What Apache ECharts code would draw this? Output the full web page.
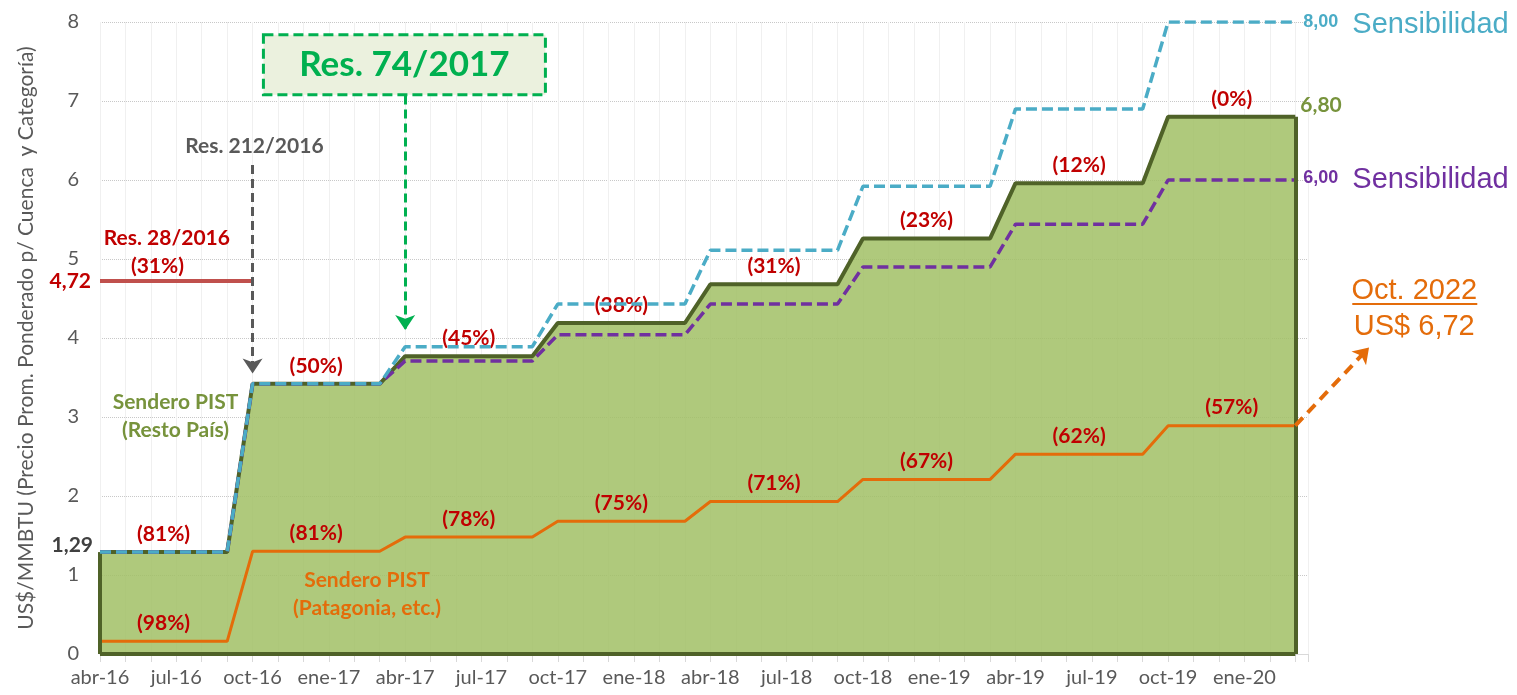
<!DOCTYPE html>
<html>

<head>
    <title>Sendero PIST</title>
    <meta charset="utf-8">
    <script src="https://cdn.jsdelivr.net/npm/echarts@6/dist/echarts.min.js"></script>
    <style>
        body { margin: 0; background: #fff; }
    </style>
</head>

<body>
    <div id="main" style="width: 1517px;height:695px;"></div>

    <script type="text/javascript">
        // months, abr-16 .. mar-20
        var months = ['abr-16', 'may-16', 'jun-16', 'jul-16', 'ago-16', 'sep-16', 'oct-16', 'nov-16', 'dic-16', 'ene-17', 'feb-17', 'mar-17',
            'abr-17', 'may-17', 'jun-17', 'jul-17', 'ago-17', 'sep-17', 'oct-17', 'nov-17', 'dic-17', 'ene-18', 'feb-18', 'mar-18',
            'abr-18', 'may-18', 'jun-18', 'jul-18', 'ago-18', 'sep-18', 'oct-18', 'nov-18', 'dic-18', 'ene-19', 'feb-19', 'mar-19',
            'abr-19', 'may-19', 'jun-19', 'jul-19', 'ago-19', 'sep-19', 'oct-19', 'nov-19', 'dic-19', 'ene-20', 'feb-20', 'mar-20'];

        // Sendero PIST (Resto Pais)
        var restoPais = [1.29, 1.29, 1.29, 1.29, 1.29, 1.29, 3.42, 3.42, 3.42, 3.42, 3.42, 3.42,
            3.77, 3.77, 3.77, 3.77, 3.77, 3.77, 4.19, 4.19, 4.19, 4.19, 4.19, 4.19,
            4.68, 4.68, 4.68, 4.68, 4.68, 4.68, 5.26, 5.26, 5.26, 5.26, 5.26, 5.26,
            5.96, 5.96, 5.96, 5.96, 5.96, 5.96, 6.80, 6.80, 6.80, 6.80, 6.80, 6.80];

        // Sendero PIST (Patagonia, etc.)
        var patagonia = [0.16, 0.16, 0.16, 0.16, 0.16, 0.16, 1.30, 1.30, 1.30, 1.30, 1.30, 1.30,
            1.48, 1.48, 1.48, 1.48, 1.48, 1.48, 1.68, 1.68, 1.68, 1.68, 1.68, 1.68,
            1.93, 1.93, 1.93, 1.93, 1.93, 1.93, 2.21, 2.21, 2.21, 2.21, 2.21, 2.21,
            2.53, 2.53, 2.53, 2.53, 2.53, 2.53, 2.89, 2.89, 2.89, 2.89, 2.89, 2.89];

        // sensibilidad 8,00
        var sensib8 = [1.29, 1.29, 1.29, 1.29, 1.29, 1.29, 3.42, 3.42, 3.42, 3.42, 3.42, 3.42,
            3.89, 3.89, 3.89, 3.89, 3.89, 3.89, 4.43, 4.43, 4.43, 4.43, 4.43, 4.43,
            5.11, 5.11, 5.11, 5.11, 5.11, 5.11, 5.92, 5.92, 5.92, 5.92, 5.92, 5.92,
            6.90, 6.90, 6.90, 6.90, 6.90, 6.90, 8.00, 8.00, 8.00, 8.00, 8.00, 8.00];

        // sensibilidad 6,00
        var sensib6 = [1.29, 1.29, 1.29, 1.29, 1.29, 1.29, 3.42, 3.42, 3.42, 3.42, 3.42, 3.42,
            3.71, 3.71, 3.71, 3.71, 3.71, 3.71, 4.04, 4.04, 4.04, 4.04, 4.04, 4.04,
            4.43, 4.43, 4.43, 4.43, 4.43, 4.43, 4.90, 4.90, 4.90, 4.90, 4.90, 4.90,
            5.44, 5.44, 5.44, 5.44, 5.44, 5.44, 6.00, 6.00, 6.00, 6.00, 6.00, 6.00];

        // Res. 28/2016
        var res28 = [4.72, 4.72, 4.72, 4.72, 4.72, 4.72, 4.72, null, null, null, null, null,
            null, null, null, null, null, null, null, null, null, null, null, null,
            null, null, null, null, null, null, null, null, null, null, null, null,
            null, null, null, null, null, null, null, null, null, null, null, null];

        // percentages per step
        var pctResto = ['(81%)', '(50%)', '(45%)', '(38%)', '(31%)', '(23%)', '(12%)', '(0%)'];
        var pctPatagonia = ['(98%)', '(81%)', '(78%)', '(75%)', '(71%)', '(67%)', '(62%)', '(57%)'];

        var yTicks = [0, 8, 1];

        var myChart = echarts.init(document.getElementById('main'));

        function pairs(vals) {
            return vals.map(function (v, i) { return [i, v]; });
        }

        // centre of every flat step of a series
        function steps(vals) {
            var out = [], start = 0;
            for (var i = 1; i <= vals.length; i++) {
                if (i === vals.length || vals[i] !== vals[start]) {
                    out.push({ mid: (start + i - 1) / 2, v: vals[start] });
                    start = i;
                }
            }
            return out;
        }

        function pctMarks(vals, labels) {
            return {
                symbol: 'circle',
                symbolSize: 1,
                itemStyle: { color: 'rgba(0,0,0,0)' },
                silent: true,
                label: {
                    show: true,
                    position: 'inside',
                    offset: [0, -18],
                    formatter: '{b}',
                    color: '#C00000',
                    fontFamily: 'Lato',
                    fontWeight: 'bold',
                    fontSize: 21
                },
                data: steps(vals).map(function (s, k) {
                    return { name: labels[k], coord: [s.mid, s.v] };
                })
            };
        }

        var last = months.length - 1;
        var font = 'Lato';

        var option = {
            animation: false,
            grid: { left: 100, top: 22, bottom: 41, right: 209 },
            xAxis: {
                type: 'value',
                min: 0,
                max: last + 0.5,
                interval: 1,
                axisLine: { lineStyle: { color: '#D9D9D9', width: 1 } },
                axisTick: { show: true, length: 8, lineStyle: { color: '#D9D9D9' } },
                axisLabel: {
                    color: '#595959',
                    fontFamily: font,
                    fontSize: 20,
                    margin: 14,
                    formatter: function (v) {
                        return (v % 3 === 0 && months[v]) ? months[v] : '';
                    }
                },
                splitLine: { show: true, lineStyle: { color: '#F0F0F0', width: 1 } }
            },
            yAxis: {
                type: 'value',
                min: yTicks[0],
                max: yTicks[1],
                interval: yTicks[2],
                name: 'US$/MMBTU (Precio Prom. Ponderado p/ Cuenca  y Categoría)',
                nameLocation: 'middle',
                nameGap: 63,
                nameTextStyle: { color: '#595959', fontFamily: font, fontSize: 21 },
                axisLine: { show: false },
                axisTick: { show: false },
                axisLabel: { color: '#595959', fontFamily: font, fontSize: 20, margin: 21 },
                splitLine: { lineStyle: { color: '#C8C8C8', type: 'dotted', width: 1 } }
            },
            series: [{
                name: 'Sendero PIST (Resto País)',
                type: 'line',
                data: pairs(restoPais),
                showSymbol: false,
                lineStyle: { color: '#4F6228', width: 4 },
                areaStyle: { color: '#A1BF65', opacity: 0.85 },
                z: 2,
                markLine: {
                    silent: true,
                    symbol: 'none',
                    label: { show: false },
                    lineStyle: { color: '#4F6228', width: 4, type: 'solid' },
                    data: [
                        [{ coord: [0, 0] }, { coord: [0, restoPais[0]] }],
                        [{ coord: [0, 0] }, { coord: [last, 0] }],
                        [{ coord: [last, 0] }, { coord: [last, restoPais[last]] }]
                    ]
                },
                markPoint: pctMarks(restoPais, pctResto)
            }, {
                name: 'Res. 28/2016',
                type: 'line',
                data: pairs(res28),
                showSymbol: false,
                lineStyle: { color: '#C0504D', width: 4 },
                z: 3
            }, {
                name: 'Sendero PIST (Patagonia, etc.)',
                type: 'line',
                data: pairs(patagonia),
                showSymbol: false,
                lineStyle: { color: '#E46C0A', width: 3 },
                z: 3,
                markPoint: pctMarks(patagonia, pctPatagonia)
            }, {
                name: 'Sensibilidad 6,00',
                type: 'line',
                data: pairs(sensib6),
                showSymbol: false,
                lineStyle: { color: '#7030A0', width: 3.5, type: [11, 5] },
                z: 4
            }, {
                name: 'Sensibilidad 8,00',
                type: 'line',
                data: pairs(sensib8),
                showSymbol: false,
                lineStyle: { color: '#4BACC6', width: 3.5, type: [11, 5] },
                z: 5
            }, {
                // the three arrows
                type: 'lines',
                coordinateSystem: 'cartesian2d',
                clip: false,
                silent: true,
                symbol: ['none', 'arrow'],
                symbolSize: 15,
                z: 6,
                data: [
                    { coords: [[6, 6.19], [6, 3.55]], lineStyle: { color: '#595959', width: 3, type: [9, 5], opacity: 1 } },
                    { coords: [[12, 7.07], [12, 4.10]], lineStyle: { color: '#00B050', width: 3, type: [9, 5], opacity: 1 } },
                    { coords: [[last, patagonia[last]], [49.9, 3.88]], lineStyle: { color: '#E46C0A', width: 4, type: [11, 7], opacity: 1 } }
                ]
            }]
        };

        myChart.setOption(option);

        // annotations placed from data coordinates
        function px(x, y) {
            return myChart.convertToPixel({ gridIndex: 0 }, [x, y]);
        }

        function note(text, at, color, size, opts) {
            opts = opts || {};
            var p = px(at[0], at[1]);
            return {
                type: 'text',
                x: p[0] + (opts.dx || 0),
                y: p[1] + (opts.dy || 0),
                z: 100,
                style: {
                    text: text,
                    fill: color,
                    fontFamily: opts.family || font,
                    fontWeight: opts.weight || 'bold',
                    fontSize: size,
                    lineHeight: opts.lineHeight || size * 1.3,
                    align: opts.align || 'center',
                    verticalAlign: 'middle'
                }
            };
        }

        var box = px(11.97, 7.46);
        var endX = px(last, 0)[0];
        var underY = px(0, 4.43)[1];
        var arial = 'Liberation Sans';

        myChart.setOption({
            graphic: [
                {
                    type: 'rect',
                    z: 99,
                    shape: { x: box[0] - 141, y: box[1] - 30, width: 282, height: 60 },
                    style: { fill: '#EBF1DE', stroke: '#00B050', lineWidth: 3, lineDash: [10, 5] }
                },
                note('Res. 74/2017', [11.97, 7.46], '#00B050', 35),
                note('Res. 212/2016', [6.07, 6.43], '#595959', 21),
                note('Res. 28/2016', [2.63, 5.26], '#C00000', 21),
                note('(31%)', [2.26, 4.91], '#C00000', 21),
                note('4,72', [0, res28[0]], '#C00000', 21, { align: 'right', dx: -9 }),
                note('1,29', [0, restoPais[0]], '#404040', 21, { align: 'right', dx: -7, dy: -7 }),
                note('Sendero PIST\n(Resto País)', [2.97, 3.01], '#77933C', 21, { lineHeight: 28 }),
                note('Sendero PIST\n(Patagonia, etc.)', [10.5, 0.76], '#E46C0A', 21, { lineHeight: 28 }),
                note('8,00', [last, sensib8[last]], '#4BACC6', 18, { align: 'left', dx: 8, family: arial, weight: 'bold' }),
                note('Sensibilidad', [last, sensib8[last]], '#4BACC6', 29, { align: 'left', dx: 57, dy: 3, family: arial, weight: 'normal' }),
                note('6,80', [last, restoPais[last]], '#77933C', 21, { align: 'left', dx: 5, dy: -12 }),
                note('6,00', [last, sensib6[last]], '#7030A0', 18, { align: 'left', dx: 8, dy: -2, family: arial, weight: 'bold' }),
                note('Sensibilidad', [last, sensib6[last]], '#7030A0', 29, { align: 'left', dx: 57, dy: 0, family: arial, weight: 'normal' }),
                note('Oct. 2022', [last, 4.60], '#E46C0A', 29, { dx: 119, family: arial, weight: 'normal' }),
                note('US$ 6,72', [last, 4.14], '#E46C0A', 29, { dx: 119, family: arial, weight: 'normal' }),
                {
                    type: 'line',
                    z: 100,
                    shape: { x1: endX + 57, y1: underY, x2: endX + 182, y2: underY },
                    style: { stroke: '#E46C0A', lineWidth: 2 }
                }
            ]
        });
    </script>
</body>

</html>
